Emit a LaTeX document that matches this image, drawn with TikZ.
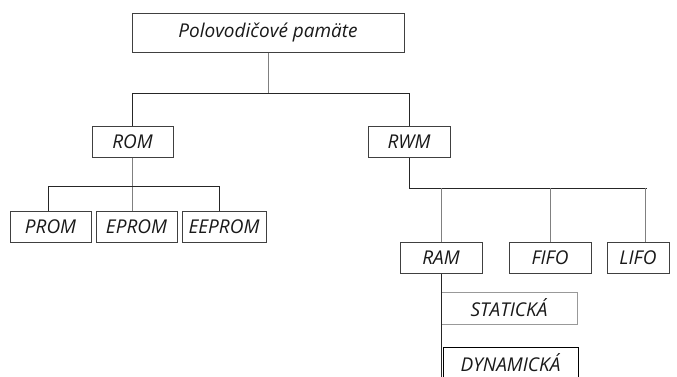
\documentclass[tikz,border=0pt]{standalone}
\usepackage{fontspec}
\setmainfont{Open Sans}
\usetikzlibrary{positioning}

\begin{document}
\begin{tikzpicture}
  [x=1pt,y=-1pt,
   box/.style={draw=black!75,line width=1pt,minimum height=31pt,inner sep=0pt,
     font=\fontsize{19}{22}\selectfont\itshape,text=black!90},
   bar/.style={draw=black!85,line width=0.9pt},
   stem/.style={draw=black!50,line width=0.9pt}]

  \useasboundingbox (0,0) rectangle (677,376);

  % root
  \node[box,minimum width=272pt,minimum height=39pt] (pamate) at (268,32.5) {Polovodičové pamäte};

  \node[box,minimum width=81pt] (rom) at (132.5,141.5) {ROM};
  \node[box,minimum width=82pt] (rwm) at (409,141.5)   {RWM};

  % ROM branch
  \node[box,minimum width=81pt] (prom)   at (50.5,226.5) {PROM};
  \node[box,minimum width=81pt] (eprom)  [right=4pt of prom]  {EPROM};
  \node[box,minimum width=84pt] (eeprom) [right=4pt of eprom] {EEPROM};

  % RWM branch
  \node[box,minimum width=82pt] (ram)  at (441,257.5) {RAM};
  \node[box,minimum width=82pt] (fifo) at (550,257.5) {FIFO};
  \node[box,minimum width=62pt] (lifo) at (638,257.5) {LIFO};

  \node[box,draw=black!40,minimum width=136pt,minimum height=32pt] (staticka)  at (509,308)   {STATICKÁ};
  \node[box,draw=black,minimum width=135pt] (dynamicka) at (510.5,362.5) {DYNAMICKÁ};

  \coordinate (b1) at (0,93);
  \coordinate (b2) at (0,186);
  \coordinate (b3) at (0,188);

  \draw[stem] (pamate.south) -- (pamate.south |- b1);
  \draw[bar]  (rom.north) -- (rom.north |- b1) -- (rwm.north |- b1) -- (rwm.north);

  \draw[stem] (rom.south) -- (rom.south |- eprom.north);
  \draw[bar]  ([xshift=-2pt]prom.north) -- ([xshift=-2pt]prom.north |- b2)
              -- ([xshift=-5pt]eeprom.north |- b2) -- ([xshift=-5pt]eeprom.north);

  \draw[bar]  (rwm.south) -- (rwm.south |- b3) -- ([xshift=9pt]lifo.north |- b3);
  \draw[stem] (ram.north) -- (ram.north |- b3);
  \draw[stem] (fifo.north) -- (fifo.north |- b3);
  \draw[stem] ([xshift=7pt]lifo.north) -- ([xshift=7pt]lifo.north |- b3);

  \draw[bar]  (ram.south) -- (ram.south |- dynamicka.south);
\end{tikzpicture}
\end{document}
